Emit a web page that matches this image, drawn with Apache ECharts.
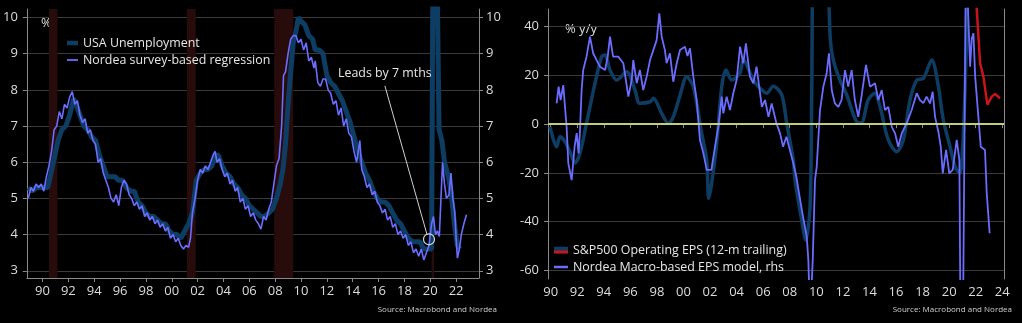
<!DOCTYPE html>
<html><head><meta charset="utf-8">
<script src="https://cdn.jsdelivr.net/npm/echarts@6/dist/echarts.min.js"></script>
<style>html,body{margin:0;padding:0;background:#000;} #c{width:1022px;height:323px;}</style>
</head><body><div id="c"></div>
<script>
// ---------- tick labels ----------
const yearTicksL = [1990,1992,1994,1996,1998,2000,2002,2004,2006,2008,2010,2012,2014,2016,2018,2020,2022];
const yearTicksR = [1990,1992,1994,1996,1998,2000,2002,2004,2006,2008,2010,2012,2014,2016,2018,2020,2022,2024];
const unempTicks = [3,4,5,6,7,8,9,10];
const epsTicks = [-60,-40,-20,0,20,40];
const recessions = [[1990.5,1991.15],[2001.17,2001.85],[2007.92,2009.4],[2020.1,2020.3]];

// ---------- left chart: USA unemployment (%) ----------
const unempYears = [1988.9,1989.2,1989.5,1989.8,1990.1,1990.4,1990.6,1990.9,1991.2,1991.5,1991.8,1992.1,1992.4,1992.6,1992.9,1993.2,1993.5,1993.8,1994.1,1994.4,1994.7,1995.0,1995.3,1995.6,1995.9,1996.2,1996.5,1996.8,1997.1,1997.4,1997.7,1998.0,1998.3,1998.6,1998.9,1999.2,1999.5,1999.8,2000.1,2000.4,2000.7,2001.0,2001.3,2001.6,2001.9,2002.2,2002.5,2002.8,2003.1,2003.4,2003.6,2003.9,2004.2,2004.5,2004.8,2005.1,2005.4,2005.7,2006.0,2006.3,2006.6,2006.9,2007.2,2007.5,2007.8,2008.1,2008.4,2008.6,2008.8,2009.0,2009.2,2009.4,2009.6,2009.8,2010.0,2010.3,2010.6,2010.9,2011.1,2011.4,2011.7,2012.0,2012.3,2012.6,2012.9,2013.2,2013.5,2013.8,2014.1,2014.4,2014.7,2015.0,2015.3,2015.6,2015.9,2016.2,2016.5,2016.8,2017.1,2017.4,2017.7,2018.0,2018.3,2018.6,2018.9,2019.2,2019.5,2019.8,2020.1,2020.25,2020.4,2020.55,2020.68,2020.9,2021.1,2021.4,2021.6,2021.9,2022.1,2022.3];
const unempVals = [5.3,5.2,5.3,5.3,5.3,5.3,5.6,6.1,6.6,6.9,7.0,7.3,7.75,7.6,7.3,7.0,6.9,6.7,6.6,6.2,5.9,5.6,5.6,5.6,5.5,5.5,5.3,5.2,5.2,4.9,4.8,4.6,4.5,4.5,4.4,4.3,4.3,4.1,4.0,4.0,3.9,4.1,4.3,4.6,5.5,5.7,5.8,5.8,5.9,6.2,6.2,5.9,5.7,5.6,5.4,5.3,5.1,5.0,4.8,4.7,4.6,4.5,4.5,4.6,4.7,5.0,5.4,5.8,6.5,7.6,8.5,9.3,9.6,10.0,9.9,9.8,9.5,9.4,9.1,9.1,9.0,8.4,8.2,8.1,7.9,7.7,7.4,7.1,6.7,6.3,6.0,5.7,5.5,5.2,5.0,4.9,4.9,4.8,4.6,4.4,4.3,4.1,3.9,3.8,3.8,3.8,3.6,3.6,3.6,14.7,13.0,10.5,6.9,6.6,6.0,5.6,5.2,4.2,3.7,3.6];

// ---------- left chart: Nordea survey-based regression (%) ----------
const surveyYears = [1988.9,1989.1,1989.3,1989.5,1989.7,1989.9,1990.1,1990.3,1990.5,1990.7,1990.9,1991.1,1991.3,1991.5,1991.7,1991.9,1992.1,1992.3,1992.5,1992.7,1992.9,1993.1,1993.3,1993.5,1993.7,1993.9,1994.1,1994.3,1994.5,1994.7,1994.9,1995.1,1995.3,1995.5,1995.7,1995.9,1996.1,1996.3,1996.5,1996.7,1996.9,1997.1,1997.3,1997.5,1997.7,1997.9,1998.1,1998.3,1998.5,1998.7,1998.9,1999.1,1999.3,1999.5,1999.7,1999.9,2000.1,2000.3,2000.5,2000.7,2000.9,2001.1,2001.3,2001.45,2001.6,2001.8,2002.0,2002.2,2002.4,2002.6,2002.8,2003.0,2003.2,2003.35,2003.5,2003.7,2003.9,2004.1,2004.3,2004.5,2004.7,2004.9,2005.1,2005.3,2005.5,2005.7,2005.9,2006.1,2006.3,2006.5,2006.7,2006.9,2007.1,2007.3,2007.5,2007.7,2007.9,2008.1,2008.3,2008.5,2008.65,2008.8,2009.0,2009.2,2009.4,2009.6,2009.8,2010.0,2010.2,2010.4,2010.6,2010.8,2011.0,2011.1,2011.3,2011.5,2011.7,2011.9,2012.1,2012.3,2012.5,2012.7,2012.9,2013.1,2013.3,2013.5,2013.7,2013.9,2014.1,2014.3,2014.55,2014.7,2014.9,2015.1,2015.3,2015.5,2015.7,2015.9,2016.1,2016.3,2016.5,2016.7,2016.9,2017.1,2017.3,2017.5,2017.7,2017.9,2018.1,2018.3,2018.5,2018.7,2018.9,2019.1,2019.3,2019.5,2019.7,2019.9,2020.1,2020.25,2020.4,2020.55,2020.7,2020.95,2021.1,2021.25,2021.45,2021.6,2021.75,2021.9,2022.0,2022.1,2022.25,2022.4,2022.6,2022.8];
const surveyVals = [5.0,5.3,5.2,5.4,5.3,5.4,5.2,5.6,5.9,6.3,6.9,7.0,7.4,7.2,7.6,7.5,7.8,7.95,7.6,7.7,7.3,7.1,7.2,6.8,6.9,6.6,6.5,6.0,6.1,5.7,5.5,5.3,5.0,4.9,5.1,4.8,5.3,5.5,5.4,5.1,5.0,4.8,4.9,4.7,4.8,4.5,4.6,4.4,4.5,4.3,4.4,4.2,4.3,4.1,4.2,3.9,4.0,3.8,3.9,3.7,3.6,3.7,3.65,3.9,4.6,5.0,5.5,5.8,5.7,5.9,5.8,6.0,6.2,6.3,6.0,6.1,5.8,5.6,5.7,5.4,5.5,5.2,5.3,4.9,5.0,4.7,4.8,4.5,4.6,4.4,4.3,4.15,4.5,4.4,4.7,4.9,5.4,5.9,6.1,7.0,8.4,8.5,9.0,9.4,9.5,9.5,9.3,9.4,9.1,9.3,8.8,8.9,8.6,8.8,8.2,8.1,8.3,8.3,8.0,7.9,7.6,7.7,7.3,7.5,7.0,7.2,6.8,6.7,6.3,6.0,6.6,5.8,5.6,5.3,5.4,5.1,5.2,4.9,4.8,4.6,4.7,4.4,4.5,4.2,4.3,4.0,4.1,3.9,4.0,3.7,3.8,3.5,3.6,3.4,3.6,3.3,3.5,3.7,4.3,4.5,4.0,4.1,3.95,6.0,5.4,5.0,5.1,5.7,5.0,4.6,3.9,3.35,3.6,4.0,4.3,4.55];

// ---------- right chart: S&P500 operating EPS (% y/y) ----------
const epsYears = [1989.95,1990.45,1990.7,1991.08,1991.5,1991.83,1992.2,1992.7,1993.34,1993.84,1994.1,1994.47,1994.97,1995.72,1996.35,1996.7,1997.5,1997.73,1998.36,1998.86,1999.23,1999.75,2000.24,2000.74,2001.37,2001.75,2001.9,2002.1,2002.5,2002.88,2003.2,2003.63,2004.25,2004.5,2005.26,2005.76,2006.26,2006.76,2007.4,2007.77,2008.27,2008.4,2008.9,2009.2,2009.53,2009.65,2009.75,2010.2,2010.9,2011.05,2011.28,2011.78,2012.29,2013.04,2013.4,2013.9,2014.4,2014.8,2015.42,2016.05,2016.55,2017.05,2017.56,2018.06,2018.69,2019.19,2019.56,2020.07,2020.45,2020.82,2020.95,2021.2,2021.37,2021.6];
const epsVals = [-1.1,-9.3,-5.2,-7.2,-12,-16,-12,0.3,16.8,27.7,28.4,22.2,18.1,21.5,14,8.6,9.2,10.6,4.4,0.3,3.0,12,19.5,15.4,-3.8,-14.7,-30.5,-25,-7.9,15.4,22.2,18.1,20.9,26.3,18.1,14.7,12.7,15.6,12,0.4,-14.7,-23,-39.4,-47.6,-33.9,10,70,150,60,35,26.3,18.1,12,1.0,0.6,9.9,12.7,7.1,-6.5,-11.3,-6.5,9.9,18.1,18.8,26.3,15.4,1.7,-9.3,-17.5,-20.2,-16,14,47,80];
const epsFcYears = [2021.9,2022.08,2022.33,2022.58,2022.88,2023.2,2023.46,2023.83];
const epsFcVals = [70,47,25,19.5,8.0,11.3,12.4,10.6];

// ---------- right chart: Nordea macro-based EPS model (% y/y) ----------
const modelYears = [1990.45,1990.6,1990.75,1990.95,1991.08,1991.2,1991.33,1991.58,1991.8,1991.96,1992.1,1992.2,1992.33,1992.45,1992.7,1992.96,1993.2,1993.46,1993.71,1994.1,1994.3,1994.47,1994.7,1995.1,1995.47,1995.85,1996.1,1996.22,1996.48,1996.72,1996.97,1997.23,1997.48,1997.73,1997.98,1998.18,1998.36,1998.6,1998.73,1998.98,1999.23,1999.49,1999.74,2000.11,2000.3,2000.49,2000.74,2000.99,2001.24,2001.5,2001.75,2002.1,2002.37,2002.62,2002.88,2003.0,2003.25,2003.5,2003.75,2004.0,2004.26,2004.5,2004.7,2005.0,2005.26,2005.5,2005.9,2006.14,2006.4,2006.64,2007.0,2007.27,2007.5,2007.75,2008.27,2008.5,2008.7,2009.0,2009.28,2009.4,2009.53,2009.73,2009.9,2010.03,2010.28,2010.53,2010.78,2010.95,2011.16,2011.4,2011.66,2011.9,2012.16,2012.4,2012.66,2012.9,2013.16,2013.4,2013.74,2014.04,2014.42,2014.67,2014.92,2015.17,2015.42,2015.68,2015.93,2016.17,2016.43,2016.8,2017.18,2017.56,2017.8,2018.06,2018.3,2018.56,2018.76,2018.94,2019.19,2019.37,2019.52,2019.77,2020.01,2020.27,2020.57,2020.77,2020.88,2021.03,2021.25,2021.4,2021.58,2021.7,2021.83,2021.96,2022.2,2022.38,2022.7,2022.83,2023.05];
const modelVals = [8.5,15.4,9.9,16,7.1,-1.1,-16.1,-23,-9.3,-3.7,-12,-3.7,14,22.2,27.7,35.9,29.1,26.3,23.6,22.2,28,35.9,27.7,27.7,25,11.3,18.1,26.3,16.8,22.2,14,19.5,26.3,30.4,34.5,45.5,35.9,30.4,25,29.1,17.4,25,30.4,31.8,28,31.1,19.5,9.9,-6.5,-12,-18.8,-18.8,-9.3,-1.1,11.3,4.4,11.3,5.8,12.7,18.1,31.8,25,33.2,19.5,16.8,23.6,7.1,9.9,3.0,8.5,0.3,-3.8,-9.3,-5.2,-16.1,-21.6,-28.4,-38,-46.2,-55.8,-80,-56,-23,-17.5,5.8,15.4,20.9,29.1,14,8.5,7.1,9.9,22.2,15.4,22.2,9.9,3.0,11.3,24.3,15.4,16.8,9.9,14,5.8,7.1,-1.1,-3.8,-9.3,-3.8,0.3,5.8,12.7,9.9,8.6,11.3,8.5,13.3,3.0,-3.1,-9.3,-20.2,-10.6,-20.2,-18.8,-6.5,-14.7,-100,-90,60,50,23.6,35,37.3,19.5,3.0,-9.3,-10.6,-28.4,-44.8];

// annotation
const leadText = 'Leads by 7 mths';
const leadFrom = [2016.49, 8.11];
const leadTo = [2019.75, 4.0];
const leadCircle = [2019.9, 3.87];

const zip = (xs, ys) => xs.map((x, i) => [x, ys[i]]);
const FONT = 'Open Sans';
const TXT = '#dcdcdc';
const AX = '#8a8a8a';
const GRID = '#3a3a3a';
const DARK = '#0e3d64';
const PURPLE = '#6c6cff';
const RED = '#c8141a';
const yr = v => String(Math.round(v) % 100).padStart(2, '0');

function xAx(grid, min, max, ticks) {
  return {
    type: 'value', gridIndex: grid, min: min, max: max,
    axisLine: { show: true, lineStyle: { color: AX, width: 1 } },
    axisTick: { show: true, length: 4, customValues: ticks, lineStyle: { color: AX } },
    axisLabel: { customValues: ticks, formatter: yr, color: TXT, fontSize: 13, fontFamily: FONT, margin: 7 },
    splitLine: { show: false }
  };
}
function yAx(grid, min, max, ticks, pos, labels, split) {
  return {
    type: 'value', gridIndex: grid, min: min, max: max, position: pos,
    axisLine: { show: true, onZero: false, lineStyle: { color: AX, width: 1 } },
    axisTick: { show: labels, length: 4, customValues: ticks, lineStyle: { color: AX } },
    axisLabel: { show: labels, customValues: ticks, color: TXT, fontSize: 13, fontFamily: FONT, margin: pos === 'left' ? 9 : 7 },
    splitLine: { show: split, lineStyle: { color: GRID, width: 1 } }
  };
}

const legendText = { color: '#e6e6e6', fontSize: 12.4, fontFamily: FONT };
const chart = echarts.init(document.getElementById('c'), null, { renderer: 'canvas' });
chart.setOption({
  backgroundColor: '#000',
  animation: false,
  grid: [
    { left: 26, top: 9, width: 453, height: 269 },
    { left: 548, top: 9, width: 456, height: 270 }
  ],
  xAxis: [
    xAx(0, 1988.79, 2023.77, yearTicksL),
    xAx(1, 1989.8, 2024.13, yearTicksR)
  ],
  yAxis: [
    yAx(0, 2.8, 10.235, unempTicks, 'left', true, true),
    yAx(0, 2.8, 10.235, unempTicks, 'right', true, false),
    yAx(1, -63.57, 47.27, epsTicks, 'left', true, true),
    yAx(1, -63.57, 47.27, epsTicks, 'right', false, false)
  ],
  legend: [
    { left: 62, top: 32, orient: 'vertical', itemGap: 5, itemWidth: 11, itemHeight: 12, symbolKeepAspect: true,
      textStyle: legendText,
      data: [
        { name: 'USA Unemployment', icon: 'path://M0,0h11v4.5h-11z' },
        { name: 'Nordea survey-based regression', icon: 'path://M0,0h11v1.8h-11z' }
      ] },
    { left: 549, top: 239, orient: 'vertical', itemGap: 5, itemWidth: 14, itemHeight: 12, symbolKeepAspect: true,
      textStyle: legendText,
      data: [
        { name: 'S&P500 Operating EPS (12-m trailing)', icon: 'path://M0,0h14v6.5h-14z' },
        { name: 'Nordea Macro-based EPS model, rhs', icon: 'path://M0,0h14v2.5h-14z' }
      ] }
  ],
  series: [
    { name: 'USA Unemployment', type: 'line', xAxisIndex: 0, yAxisIndex: 0, symbol: 'none',
      data: zip(unempYears, unempVals), lineStyle: { color: DARK, width: 5 }, itemStyle: { color: DARK },
      markArea: { silent: true, itemStyle: { color: '#280b0b' },
        data: recessions.map(r => [{ xAxis: r[0] }, { xAxis: r[1] }]) },
      z: 2 },
    { name: 'Nordea survey-based regression', type: 'line', xAxisIndex: 0, yAxisIndex: 0, symbol: 'none',
      data: zip(surveyYears, surveyVals), lineStyle: { color: PURPLE, width: 1.6 }, itemStyle: { color: PURPLE },
      markLine: { silent: true, symbol: 'none', label: { show: false },
        lineStyle: { color: '#d0d0d0', width: 1, type: 'solid' },
        data: [[{ coord: leadFrom }, { coord: leadTo }]] },
      markPoint: { silent: true, symbol: 'circle', symbolSize: 11, label: { show: false },
        itemStyle: { color: 'rgba(0,0,0,0)', borderColor: '#d8d8d8', borderWidth: 1.2 },
        data: [{ coord: leadCircle }] },
      z: 3 },
    { name: 'S&P500 Operating EPS (12-m trailing)', type: 'line', xAxisIndex: 1, yAxisIndex: 2, symbol: 'none',
      smooth: 0.3, data: zip(epsYears, epsVals), lineStyle: { color: DARK, width: 3.5 }, itemStyle: { color: DARK },
      markLine: { silent: true, symbol: 'none', label: { show: false },
        lineStyle: { color: '#c3cd76', width: 2, type: 'solid' }, data: [{ yAxis: 0 }] },
      z: 2 },
    { name: 'S&P500 Operating EPS forecast', type: 'line', xAxisIndex: 1, yAxisIndex: 2, symbol: 'none',
      data: zip(epsFcYears, epsFcVals), lineStyle: { color: RED, width: 2.5 }, itemStyle: { color: RED }, z: 2 },
    { name: 'Nordea Macro-based EPS model, rhs', type: 'line', xAxisIndex: 1, yAxisIndex: 2, symbol: 'none',
      data: zip(modelYears, modelVals), lineStyle: { color: PURPLE, width: 1.8 }, itemStyle: { color: PURPLE }, z: 3 }
  ],
  graphic: [
    { type: 'text', left: 41, top: 17, style: { text: '%', fill: TXT, font: '13px "Open Sans"' } },
    { type: 'text', left: 565, top: 23, style: { text: '% y/y', fill: TXT, font: '13px "Open Sans"' } },
    { type: 'text', left: 338, top: 67, z: 50, style: { text: leadText, fill: '#e6e6e6', font: '12.4px "Open Sans"' } },
    { type: 'text', right: 1022 - 497, top: 306, style: { text: 'Source: Macrobond and Nordea', fill: '#cfcfcf', font: '8px "Open Sans"' } },
    { type: 'text', right: 10, top: 306, style: { text: 'Source: Macrobond and Nordea', fill: '#cfcfcf', font: '8px "Open Sans"' } },
    { type: 'rect', left: 554, top: 250.5, shape: { width: 14, height: 3 }, style: { fill: RED }, z: 100 }
  ]
});
</script></body></html>
